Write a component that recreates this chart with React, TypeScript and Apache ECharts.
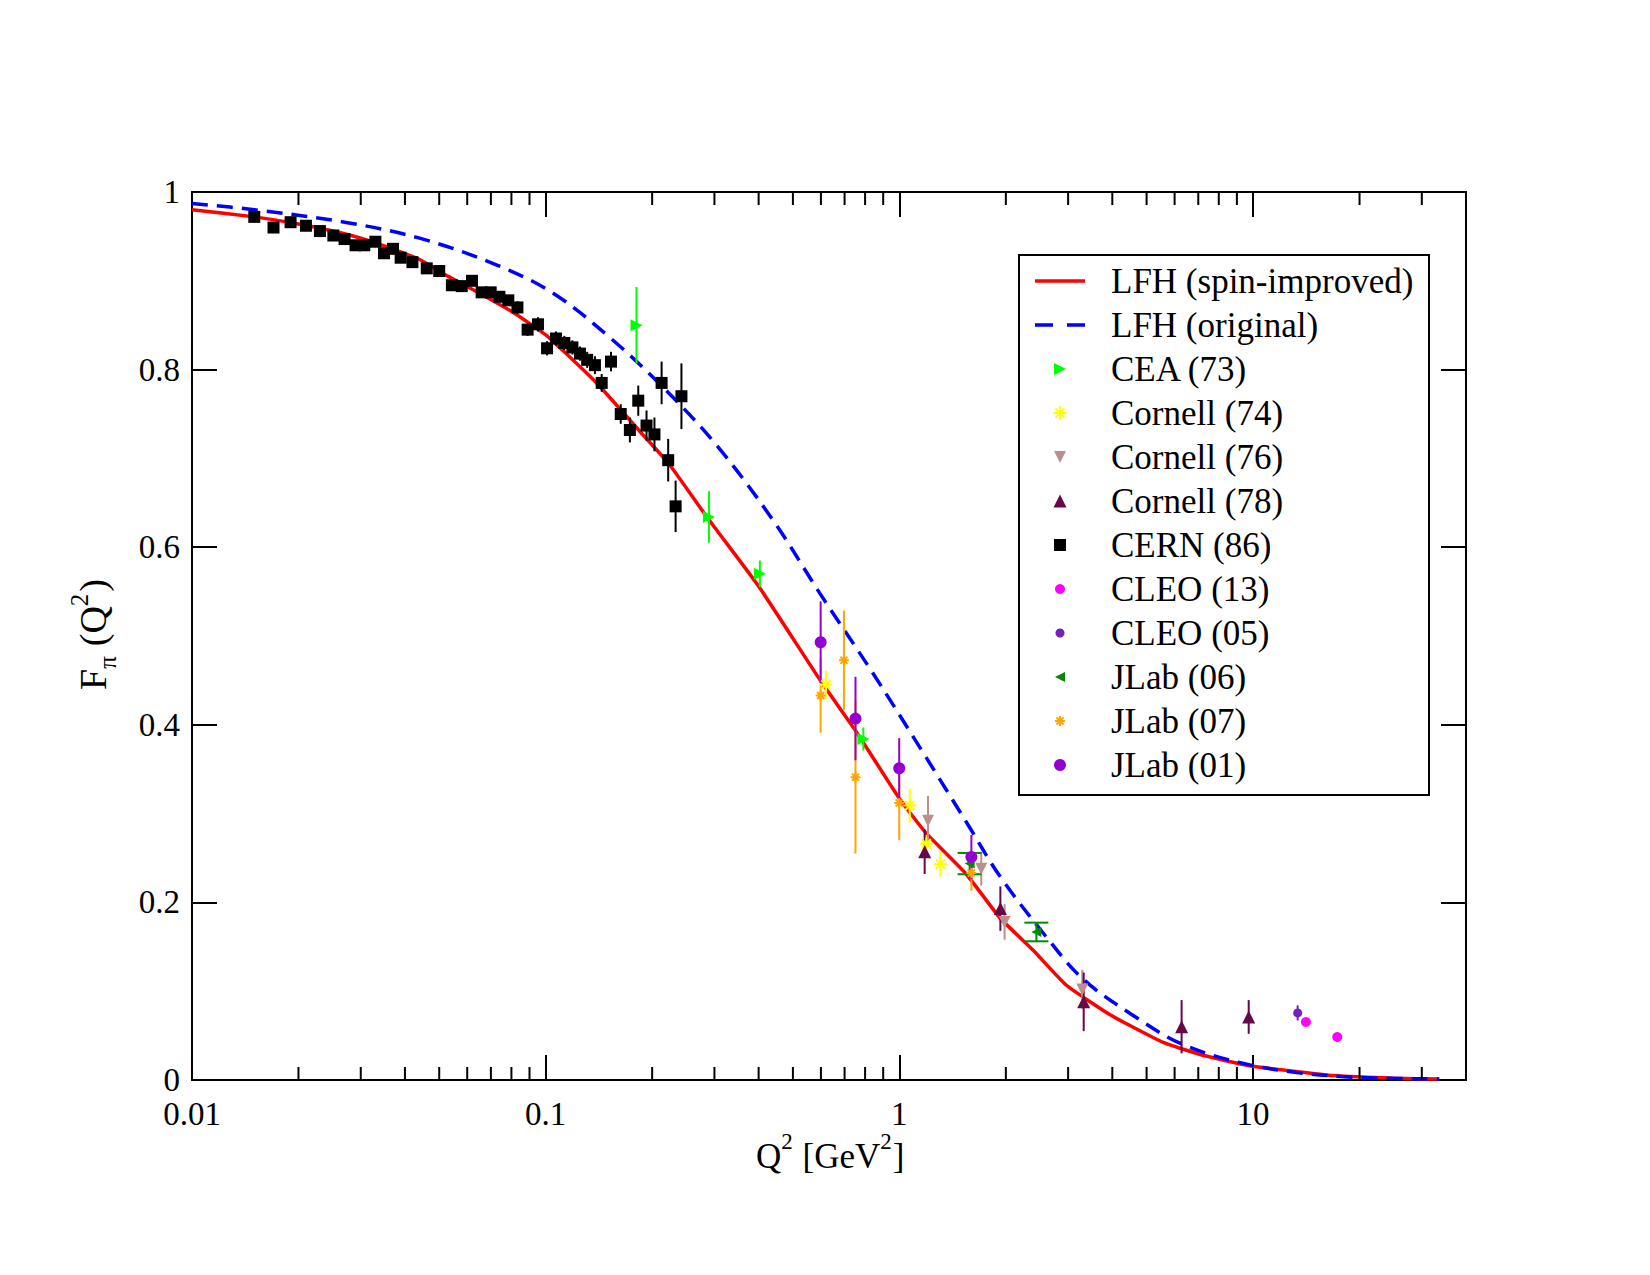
import React, { useEffect, useRef } from 'react';
import * as echarts from 'echarts';

const FONT = '"Liberation Serif", "Times New Roman", serif';

// ---------- axis ticks ----------
const xTickLabels = ['0.01', '0.1', '1', '10'];
const xMinorTicks = [
  0.02, 0.03, 0.04, 0.05, 0.06, 0.07, 0.08, 0.09,
  0.2, 0.3, 0.4, 0.5, 0.6, 0.7, 0.8, 0.9,
  2, 3, 4, 5, 6, 7, 8, 9,
  20, 30,
];

// ---------- model curves [Q2, F] ----------
const lfhSpinImproved = [
  [0.01, 0.980], [0.015, 0.972], [0.02, 0.964], [0.027, 0.953], [0.034, 0.941],
  [0.044, 0.924], [0.053, 0.905], [0.065, 0.886], [0.082, 0.863], [0.1, 0.839],
  [0.12, 0.810], [0.14, 0.784], [0.185, 0.730], [0.223, 0.694], [0.288, 0.632],
  [0.40, 0.556], [0.60, 0.449], [0.756, 0.392], [1.0, 0.317], [1.19, 0.278],
  [1.545, 0.232], [1.92, 0.183], [2.39, 0.146], [2.96, 0.107], [4.0, 0.072],
  [5.6, 0.042], [7.05, 0.029], [8.76, 0.020], [10, 0.0155], [13.6, 0.009],
  [16.8, 0.005], [25, 0.002], [33.6, 0.001],
];
const lfhOriginal = [
  [0.01, 0.987], [0.015, 0.980], [0.027, 0.966], [0.044, 0.948], [0.0725, 0.918],
  [0.105, 0.886], [0.153, 0.835], [0.216, 0.779], [0.304, 0.715], [0.44, 0.630],
  [0.596, 0.548], [0.842, 0.458], [1.17, 0.368], [1.56, 0.288], [1.92, 0.230],
  [2.58, 0.163], [3.3, 0.114], [4.57, 0.073], [6.33, 0.040], [9.8, 0.017],
  [16.8, 0.0045], [33.6, 0.0012],
];

// ---------- data sets [Q2, F, error] ----------
const cea73 = [
  [0.1806, 0.850, 0.043], [0.2895, 0.634, 0.029], [0.4033, 0.570, 0.015], [0.791, 0.384, 0.013],
];
const cornell74 = [
  [0.6196, 0.445, 0.016], [1.07, 0.309, 0.019], [1.192, 0.266, 0.010], [1.306, 0.243, 0.014],
];
const cornell76 = [
  [1.205, 0.292, 0.028], [1.704, 0.238, 0.019], [1.984, 0.178, 0.020], [3.29, 0.102, 0.022],
];
const cornell78 = [
  [1.179, 0.257, 0.025], [1.93, 0.193, 0.025], [3.32, 0.088, 0.033], [6.28, 0.060, 0.030], [9.72, 0.071, 0.019],
];
const cern86 = [
  [0.0150, 0.972, 0.006], [0.0170, 0.960, 0.006], [0.0190, 0.966, 0.006], [0.0210, 0.962, 0.006],
  [0.0230, 0.956, 0.006], [0.0251, 0.951, 0.006], [0.0270, 0.947, 0.006], [0.0290, 0.940, 0.006],
  [0.0307, 0.940, 0.006], [0.0330, 0.944, 0.006], [0.0349, 0.931, 0.006], [0.0370, 0.936, 0.006],
  [0.0389, 0.926, 0.006], [0.0420, 0.921, 0.006], [0.0461, 0.914, 0.006], [0.0500, 0.911, 0.006],
  [0.0543, 0.895, 0.006], [0.0579, 0.894, 0.006], [0.0619, 0.900, 0.006], [0.0659, 0.887, 0.006],
  [0.0699, 0.887, 0.006], [0.0740, 0.882, 0.006], [0.0784, 0.878, 0.006], [0.0832, 0.870, 0.007],
  [0.0889, 0.845, 0.007], [0.0951, 0.851, 0.008], [0.1009, 0.824, 0.008], [0.1069, 0.835, 0.008],
  [0.1129, 0.830, 0.008], [0.119, 0.825, 0.008], [0.125, 0.818, 0.008], [0.131, 0.811, 0.009],
  [0.1378, 0.805, 0.010], [0.144, 0.785, 0.010], [0.153, 0.809, 0.011], [0.163, 0.750, 0.011],
  [0.173, 0.732, 0.014], [0.1827, 0.765, 0.017], [0.1928, 0.737, 0.017], [0.203, 0.727, 0.019],
  [0.2127, 0.785, 0.024], [0.222, 0.698, 0.024], [0.233, 0.646, 0.029], [0.242, 0.770, 0.037],
];
const cleo13 = [
  [14.11, 0.0653, 0.002], [17.3, 0.0484, 0.002],
];
const cleo05 = [
  [13.37, 0.0755, 0.0085],
];
const jlab06 = [
  [1.58, 0.2437, 0.012], [2.44, 0.1667, 0.0105],
];
const jlab07 = [
  [0.599, 0.433, 0.042], [0.697, 0.4726, 0.056], [0.7515, 0.341, 0.086], [0.999, 0.312, 0.042], [1.598, 0.233, 0.020],
];
const jlab01 = [
  [0.599, 0.493, 0.046], [0.7515, 0.407, 0.047], [0.999, 0.351, 0.034], [1.598, 0.251, 0.025],
];

const curveNames = ['LFH (spin-improved)', 'LFH (original)'];

type Kind = 'rect' | 'circle' | 'triUp' | 'triDown' | 'triRight' | 'triLeft' | 'star';
interface DS { name: string; data: number[][]; color: string; kind: Kind; size: number; caps?: number; }

const datasets: DS[] = [
  { name: 'CEA (73)', data: cea73, color: '#00FF00', kind: 'triRight', size: 12 },
  { name: 'Cornell (74)', data: cornell74, color: '#FFFF00', kind: 'star', size: 13 },
  { name: 'Cornell (76)', data: cornell76, color: '#BC8F8F', kind: 'triDown', size: 12 },
  { name: 'Cornell (78)', data: cornell78, color: '#670748', kind: 'triUp', size: 13 },
  { name: 'CERN (86)', data: cern86, color: '#000000', kind: 'rect', size: 12 },
  { name: 'CLEO (13)', data: cleo13, color: '#FF00FF', kind: 'circle', size: 10 },
  { name: 'CLEO (05)', data: cleo05, color: '#7221BC', kind: 'circle', size: 9 },
  { name: 'JLab (06)', data: jlab06, color: '#008B00', kind: 'triLeft', size: 10, caps: 24 },
  { name: 'JLab (07)', data: jlab07, color: '#FFA500', kind: 'star', size: 10 },
  { name: 'JLab (01)', data: jlab01, color: '#9400D3', kind: 'circle', size: 12 },
];

const STAR_PATH = 'path://M5,0L5,10M0,5L10,5M1.46,1.46L8.54,8.54M8.54,1.46L1.46,8.54';

function symbolOf(kind: Kind): { symbol: string; rotate: number } {
  switch (kind) {
    case 'rect': return { symbol: 'rect', rotate: 0 };
    case 'circle': return { symbol: 'circle', rotate: 0 };
    case 'triUp': return { symbol: 'triangle', rotate: 0 };
    case 'triDown': return { symbol: 'triangle', rotate: 180 };
    case 'triRight': return { symbol: 'triangle', rotate: -90 };
    case 'triLeft': return { symbol: 'triangle', rotate: 90 };
    default: return { symbol: STAR_PATH, rotate: 0 };
  }
}

function legendSymbol(kind: Kind, cx: number, cy: number, s: number, color: string): any[] {
  const h = s / 2;
  const Z = 102;
  const poly = (pts: number[][]) => ({ type: 'polygon', z: Z, shape: { points: pts }, style: { fill: color } });
  switch (kind) {
    case 'rect': return [{ type: 'rect', z: Z, shape: { x: cx - h, y: cy - h, width: s, height: s }, style: { fill: color } }];
    case 'circle': return [{ type: 'circle', z: Z, shape: { cx, cy, r: h }, style: { fill: color } }];
    case 'triUp': return [poly([[cx, cy - h], [cx + h, cy + h], [cx - h, cy + h]])];
    case 'triDown': return [poly([[cx - h, cy - h], [cx + h, cy - h], [cx, cy + h]])];
    case 'triRight': return [poly([[cx - h, cy - h], [cx + h, cy], [cx - h, cy + h]])];
    case 'triLeft': return [poly([[cx + h, cy - h], [cx - h, cy], [cx + h, cy + h]])];
    default: {
      const d = h * 0.707;
      const ln = (x1: number, y1: number, x2: number, y2: number) => ({
        type: 'line', z: Z, shape: { x1, y1, x2, y2 }, style: { stroke: color, lineWidth: 2 },
      });
      return [
        ln(cx, cy - h, cx, cy + h), ln(cx - h, cy, cx + h, cy),
        ln(cx - d, cy - d, cx + d, cy + d), ln(cx + d, cy - d, cx - d, cy + d),
      ];
    }
  }
}

export default function App() {
  const ref = useRef<HTMLDivElement>(null);

  useEffect(() => {
    if (!ref.current) return;
    const chart = echarts.init(ref.current, undefined, { renderer: 'svg' });

    const cv = document.createElement('canvas').getContext('2d') as CanvasRenderingContext2D;
    const mw = (t: string, size: number) => { cv.font = `${size}px "Liberation Serif"`; return cv.measureText(t).width; };
    const mid = (baseline: number, size: number) => baseline - 0.3375 * size;

    const series: any[] = [];
    // minor ticks (bottom & top)
    series.push({
      type: 'custom', silent: true, z: 5,
      data: xMinorTicks.map((v) => [v, 0.5]),
      encode: { x: 0, y: 1 },
      renderItem: (_p: any, api: any) => {
        const v = api.value(0);
        const b = api.coord([v, 0]);
        const t = api.coord([v, 1]);
        return {
          type: 'group',
          children: [
            { type: 'line', shape: { x1: b[0], y1: b[1], x2: b[0], y2: b[1] - 13 }, style: { stroke: '#000', lineWidth: 2 } },
            { type: 'line', shape: { x1: t[0], y1: t[1], x2: t[0], y2: t[1] + 13 }, style: { stroke: '#000', lineWidth: 2 } },
          ],
        };
      },
    });
    series.push({
      type: 'line', name: curveNames[0], data: lfhSpinImproved, symbol: 'none', silent: true, z: 2,
      smooth: 0.15,
      lineStyle: { color: '#FF0000', width: 3.5 },
    });
    series.push({
      type: 'line', name: curveNames[1], data: lfhOriginal, symbol: 'none', silent: true, z: 2,
      smooth: 0.35,
      lineStyle: { color: '#0000FF', width: 3.5, type: [16, 9] },
    });

    datasets.forEach((ds) => {
      const capW = ds.caps || 0;
      series.push({
        type: 'custom', name: ds.name + ' err', silent: true, z: 3,
        data: ds.data,
        encode: { x: 0, y: 1 },
        renderItem: (_p: any, api: any) => {
          const x = api.value(0), y = api.value(1), e = api.value(2);
          const lo = api.coord([x, y - e]);
          const hi = api.coord([x, y + e]);
          const st = { stroke: ds.color, lineWidth: 2 };
          const children: any[] = [
            { type: 'line', shape: { x1: lo[0], y1: lo[1], x2: hi[0], y2: hi[1] }, style: st },
          ];
          if (capW > 0) {
            children.push({ type: 'line', shape: { x1: lo[0] - capW / 2, y1: lo[1], x2: lo[0] + capW / 2, y2: lo[1] }, style: st });
            children.push({ type: 'line', shape: { x1: hi[0] - capW / 2, y1: hi[1], x2: hi[0] + capW / 2, y2: hi[1] }, style: st });
          }
          return { type: 'group', children };
        },
      });
      const sym = symbolOf(ds.kind);
      series.push({
        type: 'scatter', name: ds.name, silent: true, z: 4,
        data: ds.data.map((d) => [d[0], d[1]]),
        symbol: sym.symbol, symbolRotate: sym.rotate, symbolSize: ds.size,
        itemStyle: ds.kind === 'star'
          ? { color: ds.color, borderColor: ds.color, borderWidth: 2, opacity: 1 }
          : { color: ds.color, opacity: 1 },
      });
    });

    // ---------- legend (graphic) ----------
    const gfx: any[] = [];
    gfx.push({
      type: 'rect', z: 100,
      shape: { x: 1019, y: 255, width: 410, height: 540 },
      style: { fill: '#fff', stroke: '#000', lineWidth: 2 },
    });
    const rowY = [281, 325, 369, 413, 457, 501, 545, 589, 633, 677, 721, 765];
    const symX = 1060;
    const textX = 1111;
    const LFS = 35;
    gfx.push({ type: 'line', z: 101, shape: { x1: 1035, y1: rowY[0], x2: 1085, y2: rowY[0] }, style: { stroke: '#FF0000', lineWidth: 3.5 } });
    gfx.push({ type: 'line', z: 101, shape: { x1: 1035, y1: rowY[1], x2: 1085, y2: rowY[1] }, style: { stroke: '#0000FF', lineWidth: 3.5, lineDash: [18, 14] } });
    const legendNames = [...curveNames, ...datasets.map((d) => d.name)];
    datasets.forEach((ds, i) => {
      legendSymbol(ds.kind, symX, rowY[i + 2], ds.size, ds.color).forEach((el) => gfx.push(el));
    });
    legendNames.forEach((name, i) => {
      gfx.push({
        type: 'text', z: 101, x: textX, y: rowY[i],
        style: { text: name, font: `${LFS}px ${FONT}`, fill: '#000', align: 'left', verticalAlign: 'middle' },
      });
    });

    // ---------- axis titles ----------
    // x title: Q^2 [GeV^2]
    {
      const TS = 35, SS = 23;
      let x = 756;
      const base = 1168, supBase = 1149;
      const parts: [string, boolean][] = [['Q', false], ['2', true], [' [GeV', false], ['2', true], [']', false]];
      parts.forEach(([t, sup]) => {
        const size = sup ? SS : TS;
        gfx.push({
          type: 'text', x, y: mid(sup ? supBase : base, size),
          style: { text: t, font: `${size}px ${FONT}`, fill: '#000', align: 'left', verticalAlign: 'middle' },
        });
        x += mw(t, size) + (sup ? 1 : 0);
      });
    }
    // y title: F_pi (Q^2), rotated
    {
      const TS = 38, SS = 25;
      const children: any[] = [];
      let x = 0;
      const parts: [string, number, number][] = [['F', 0, 0], ['\u03C0', 1, 10], ['(Q', 0, 0], ['2', 2, 2], [')', 0, 0]];
      parts.forEach(([t, mode, gap]) => {
        const size = mode === 0 ? TS : SS;
        const base = mode === 0 ? 0 : mode === 1 ? 10 : -18;
        children.push({
          type: 'text', x, y: mid(base, size),
          style: { text: t, font: `${size}px ${FONT}`, fill: '#000', align: 'left', verticalAlign: 'middle' },
        });
        x += mw(t, size) + gap;
      });
      gfx.push({ type: 'group', x: 106, y: 690, rotation: Math.PI / 2, children });
    }

    const xLabelFmt = (v: number) => {
      const l = Math.log10(v);
      const r = Math.round(l);
      if (Math.abs(l - r) > 0.01) return '';
      const idx = r + 2;
      return xTickLabels[idx] || '';
    };

    const axisCommonX = {
      type: 'log', logBase: 10, min: 0.01, max: 40,
      axisLine: { show: true, onZero: false, lineStyle: { color: '#000', width: 2 } },
      axisTick: { show: true, inside: true, length: 25, lineStyle: { color: '#000', width: 2 } },
      splitLine: { show: false },
      minorTick: { show: false },
    };
    const axisCommonY = {
      type: 'value', min: 0, max: 1, interval: 0.2,
      axisLine: { show: true, onZero: false, lineStyle: { color: '#000', width: 2 } },
      axisTick: { show: true, inside: true, length: 25, lineStyle: { color: '#000', width: 2 } },
      splitLine: { show: false },
    };

    chart.setOption({
      animation: false,
      backgroundColor: '#fff',
      grid: { left: 192, top: 192, right: 184, bottom: 195, show: true, borderColor: '#000', borderWidth: 2, backgroundColor: 'transparent' },
      xAxis: [
        { ...axisCommonX, position: 'bottom',
          axisLabel: { show: true, formatter: xLabelFmt, margin: 22, lineHeight: 24, color: '#000', fontSize: 33, fontFamily: FONT } },
        { ...axisCommonX, position: 'top', axisLabel: { show: false } },
      ],
      yAxis: [
        { ...axisCommonY, position: 'left',
          axisLabel: { show: true, margin: 12, lineHeight: 24, color: '#000', fontSize: 33, fontFamily: FONT } },
        { ...axisCommonY, position: 'right', axisLabel: { show: false } },
      ],
      series,
      graphic: gfx,
    });

    return () => { chart.dispose(); };
  }, []);

  return <div ref={ref} style={{ position: 'absolute', left: 0, top: 0, width: 1650, height: 1275 }} />;
}
